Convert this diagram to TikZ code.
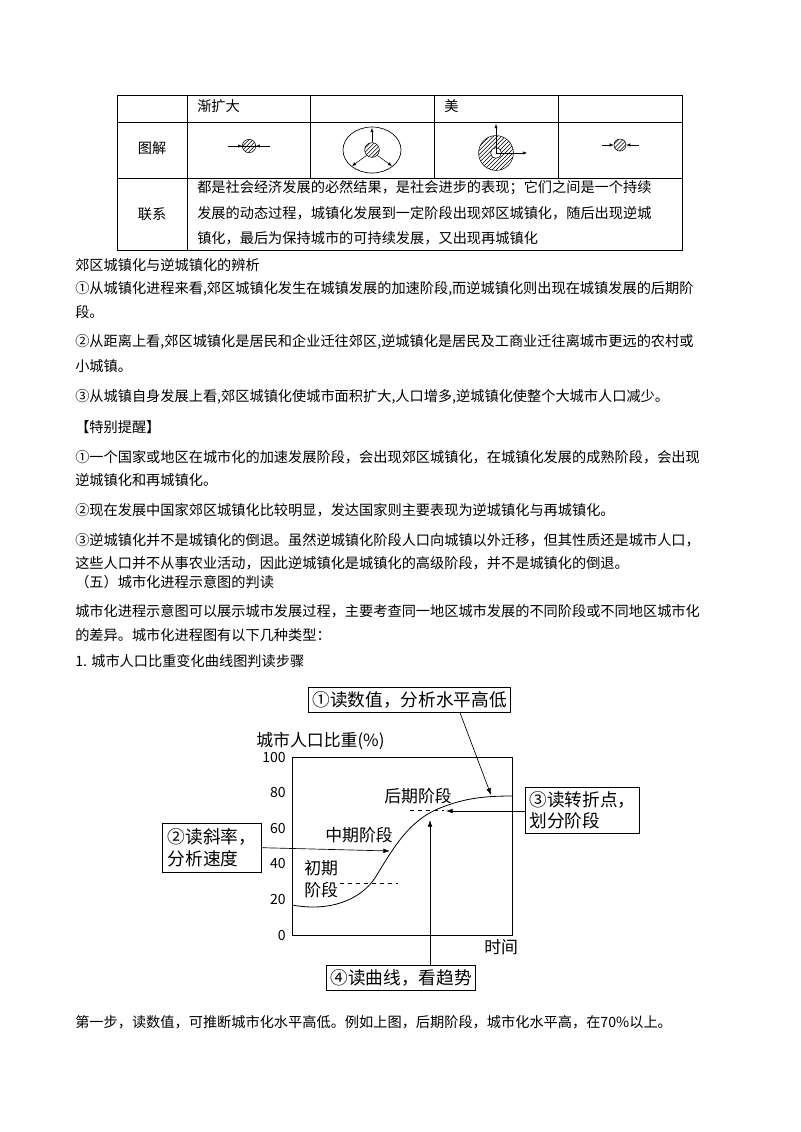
\documentclass[tikz,border=0pt]{standalone}
\usepackage{fontspec}
\setmainfont{Noto Sans CJK SC}
\usetikzlibrary{arrows.meta,patterns}

\tikzset{
  body/.style={anchor=west, inner sep=0pt, font=\fontsize{10.6}{12}\selectfont},
  cell/.style={inner sep=0pt, font=\fontsize{10.6}{12}\selectfont},
  lbl/.style={inner sep=0pt, font=\fontsize{12.6}{14}\selectfont},
  tick/.style={anchor=east, inner sep=0pt, font=\fontsize{10.5}{12}\selectfont},
  step box/.style={draw, line width=0.6pt, inner sep=3pt, align=left, font=\fontsize{13.2}{16}\selectfont},
  hatch/.style={draw, line width=0.4pt, pattern=north east lines},
  arr/.style={line width=0.5pt, -{Latex[length=5pt,width=3.5pt]}},
  tiny arr/.style={line width=0.4pt, -{Latex[length=3pt,width=2.5pt]}}
}

\begin{document}
\begin{tikzpicture}[x=0.02625cm, y=-0.02625cm]
\useasboundingbox (0,0) rectangle (800,1132);

% table
\draw[line width=0.5pt] (117,95) rectangle (682,250);
\draw[line width=0.5pt] (117,122) -- (682,122) (117,178) -- (682,178);
\foreach \x in {187,310,434,558} \draw[line width=0.5pt] (\x,95) -- (\x,178);
\draw[line width=0.5pt] (187,178) -- (187,250);
\node[body] (c12) at (197,106) {渐扩大};
\node[body] (c14) at (444,106) {美};
\node[cell] (c21) at (152,148) {图解};
\node[cell] (c31) at (152,214) {联系};
\node[body] (l1) at (197,188) {都是社会经济发展的必然结果，是社会进步的表现；它们之间是一个持续};
\node[body] (l2) at (197,213) {发展的动态过程，城镇化发展到一定阶段出现郊区城镇化，随后出现逆城};
\node[body] (l3) at (197,238) {镇化，最后为保持城市的可持续发展，又出现再城镇化};

% icons
\draw[line width=0.3pt] (228,146) -- (270,146);
\node[hatch, circle, minimum size=10pt, inner sep=0pt] (i1) at (249,146) {};
\draw[tiny arr] (238,146) -- (i1.west);
\draw[tiny arr] (262,146) -- (i1.east);

\draw[line width=0.5pt] (372,150) ellipse (29 and 23);
\node[hatch, circle, minimum size=11pt, inner sep=0pt] (i2) at (372,150) {};
\draw[tiny arr] (i2.north) -- (372,128);
\draw[tiny arr] (i2.south west) -- (352,166);
\draw[tiny arr] (i2.south east) -- (392,166);

\node[hatch, circle, minimum size=26pt, inner sep=0pt] (i3) at (496,153) {};
\node[draw, fill=white, circle, minimum size=8pt, inner sep=0pt] (i3c) at (496,153) {};
\draw[tiny arr] (496,153) -- (496,124);
\draw[tiny arr] (496,153) -- (527,153);

\node[hatch, circle, minimum size=9pt, inner sep=0pt] (i4) at (620,145) {};
\draw[tiny arr] (602,145) -- (i4.west);
\draw[tiny arr] (639,145) -- (i4.east);

% text
\node[body] at (75,265) {郊区城镇化与逆城镇化的辨析};
\node[body] at (75,289) {①从城镇化进程来看,郊区城镇化发生在城镇发展的加速阶段,而逆城镇化则出现在城镇发展的后期阶};
\node[body] at (75,312) {段。};
\node[body] at (75,342) {②从距离上看,郊区城镇化是居民和企业迁往郊区,逆城镇化是居民及工商业迁往离城市更远的农村或};
\node[body] at (75,366) {小城镇。};
\node[body] at (75,397) {③从城镇自身发展上看,郊区城镇化使城市面积扩大,人口增多,逆城镇化使整个大城市人口减少。};
\node[body] at (75,427) {【特别提醒】};
\node[body] at (75,457) {①一个国家或地区在城市化的加速发展阶段，会出现郊区城镇化，在城镇化发展的成熟阶段，会出现};
\node[body] at (75,480) {逆城镇化和再城镇化。};
\node[body] at (75,510) {②现在发展中国家郊区城镇化比较明显，发达国家则主要表现为逆城镇化与再城镇化。};
\node[body] at (75,540) {③逆城镇化并不是城镇化的倒退。虽然逆城镇化阶段人口向城镇以外迁移，但其性质还是城市人口，};
\node[body] at (75,563) {这些人口并不从事农业活动，因此逆城镇化是城镇化的高级阶段，并不是城镇化的倒退。};
\node[body] at (75,582) {（五）城市化进程示意图的判读};
\node[body] at (75,611) {城市化进程示意图可以展示城市发展过程，主要考查同一地区城市发展的不同阶段或不同地区城市化};
\node[body] at (75,635) {的差异。城市化进程图有以下几种类型：};
\node[body] at (75,661) {1. 城市人口比重变化曲线图判读步骤};
\node[body] at (75,1022) {第一步，读数值，可推断城市化水平高低。例如上图，后期阶段，城市化水平高，在70\%以上。};

% chart
\draw[line width=0.6pt] (292,757) rectangle (512,935);
\foreach \v [count=\i from 0] in {0,20,40,60,80,100}
  \node[tick] at (286,935-35.6*\i) {\v};
\node[lbl, anchor=west] (ylab) at (256,741) {城市人口比重(\%)};
\node[lbl, anchor=west] (xlab) at (484,947) {时间};
\draw[line width=0.6pt] (292,905) .. controls (330,912) and (360,900) .. (375,878)
  .. controls (395,845) and (410,820) .. (440,808) .. controls (465,798) and (485,796) .. (512,796);
\draw[dashed, line width=0.4pt] (340,883) -- (398,883);
\draw[dashed, line width=0.4pt] (410,810) -- (444,810);
\node[lbl, anchor=west] (early1) at (304,868) {初期};
\node[lbl, anchor=west] (early2) at (304,890) {阶段};
\node[lbl, anchor=west] (mid) at (325,835) {中期阶段};
\node[lbl, anchor=west] (late) at (384,796) {后期阶段};

\node[step box, anchor=north west] (s1) at (308,687) {①读数值，分析水平高低};
\node[step box, anchor=north west, inner sep=4pt] (s2) at (162,823) {②读斜率，\\分析速度};
\node[step box, anchor=north west] (s3) at (525,787) {③读转折点，\\划分阶段};
\node[step box, anchor=north west] (s4) at (326,965) {④读曲线，看趋势};
\coordinate (t1) at (491,795);
\coordinate (t2) at (390,851);
\coordinate (t3) at (446,811);
\coordinate (t4) at (430,820);
\draw[arr] (s1.south -| 460,0) -- (t1);
\draw[arr] (s2.east) -- (t2);
\draw[arr] (s3.west |- t3) -- (t3);
\draw[arr] (s4.north -| t4) -- (t4);
\end{tikzpicture}
\end{document}
